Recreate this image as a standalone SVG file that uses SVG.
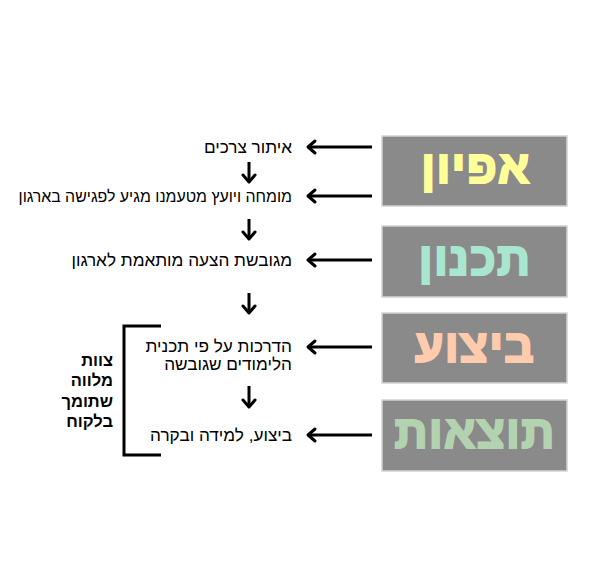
<svg xmlns="http://www.w3.org/2000/svg" width="595" height="567" viewBox="0 0 595 567">
<defs>
<style>
.box{fill:#8a8a8b;stroke:#d2d2d2;stroke-width:1.5}
.title{font-family:"Liberation Sans","DejaVu Sans",sans-serif;font-weight:bold;font-size:46px;text-anchor:middle;stroke-width:2.2;stroke-linejoin:miter;letter-spacing:1.3px}
.lbl{font-family:"Liberation Sans","DejaVu Sans",sans-serif;font-size:17.2px;fill:#000;text-anchor:end}
.side{font-family:"Liberation Sans","DejaVu Sans",sans-serif;font-size:16.5px;font-weight:bold;fill:#000;text-anchor:end}
.arr{stroke:#000;stroke-width:3;fill:none}
.head{stroke:#000;stroke-width:3;fill:none;stroke-linecap:round;stroke-linejoin:round}
</style>
</defs>
<rect width="595" height="567" fill="#fff"/>
<g id="stage-afyon">
<rect class="box" x="382" y="136" width="185" height="70"/>
<text class="title" x="476" y="183" fill="#ffff99" stroke="#ffff99">אפיון</text>
</g>
<g id="stage-tichnun">
<rect class="box" x="382" y="226" width="185" height="71"/>
<text class="title" x="475" y="275" fill="#a8e6cf" stroke="#a8e6cf">תכנון</text>
</g>
<g id="stage-bitzua">
<rect class="box" x="382" y="313" width="185" height="70"/>
<text class="title" x="475" y="362" fill="#ffcbad" stroke="#ffcbad">ביצוע</text>
</g>
<g id="stage-totzaot">
<rect class="box" x="382" y="400" width="185" height="71"/>
<text class="title" x="475" y="448" fill="#b3d3b0" stroke="#b3d3b0">תוצאות</text>
</g>
<g id="step-1"><text class="lbl" x="292" y="153">איתור צרכים</text></g>
<g id="step-2"><text class="lbl" x="292" y="202" style="font-size:15.9px">מומחה ויועץ מטעמנו מגיע לפגישה בארגון</text></g>
<g id="step-3"><text class="lbl" x="292" y="266">מגובשת הצעה מותאמת לארגון</text></g>
<g id="step-4"><text class="lbl" x="292" y="352">הדרכות על פי תכנית</text><text class="lbl" x="292" y="370">הלימודים שגובשה</text></g>
<g id="step-5"><text class="lbl" x="292" y="441">ביצוע, למידה ובקרה</text></g>
<g id="support">
<path class="arr" d="M161 326 H124 V455 H161"/>
<text class="side" x="113" y="366">צוות</text>
<text class="side" x="113" y="386">מלווה</text>
<text class="side" x="113" y="407">שתומך</text>
<text class="side" x="113" y="427">בלקוח</text>
</g>
<g id="connectors">
<g>
<path class="arr" d="M372 147 H308"/><path class="head" d="M315 141 L308 147 L315 153"/>
<path class="arr" d="M372 196 H308"/><path class="head" d="M315 190 L308 196 L315 202"/>
<path class="arr" d="M372 260 H308"/><path class="head" d="M315 254 L308 260 L315 266"/>
<path class="arr" d="M372 347 H308"/><path class="head" d="M315 341 L308 347 L315 353"/>
<path class="arr" d="M372 435 H308"/><path class="head" d="M315 429 L308 435 L315 441"/>
</g>
<g>
<path class="arr" d="M249 162 V182"/><path class="head" d="M243 175 L249 182 L255 175"/>
<path class="arr" d="M249 219 V239"/><path class="head" d="M243 232 L249 239 L255 232"/>
<path class="arr" d="M249 293 V313"/><path class="head" d="M243 306 L249 313 L255 306"/>
<path class="arr" d="M249 386 V407"/><path class="head" d="M243 400 L249 407 L255 400"/>
</g>
</g>
</svg>
